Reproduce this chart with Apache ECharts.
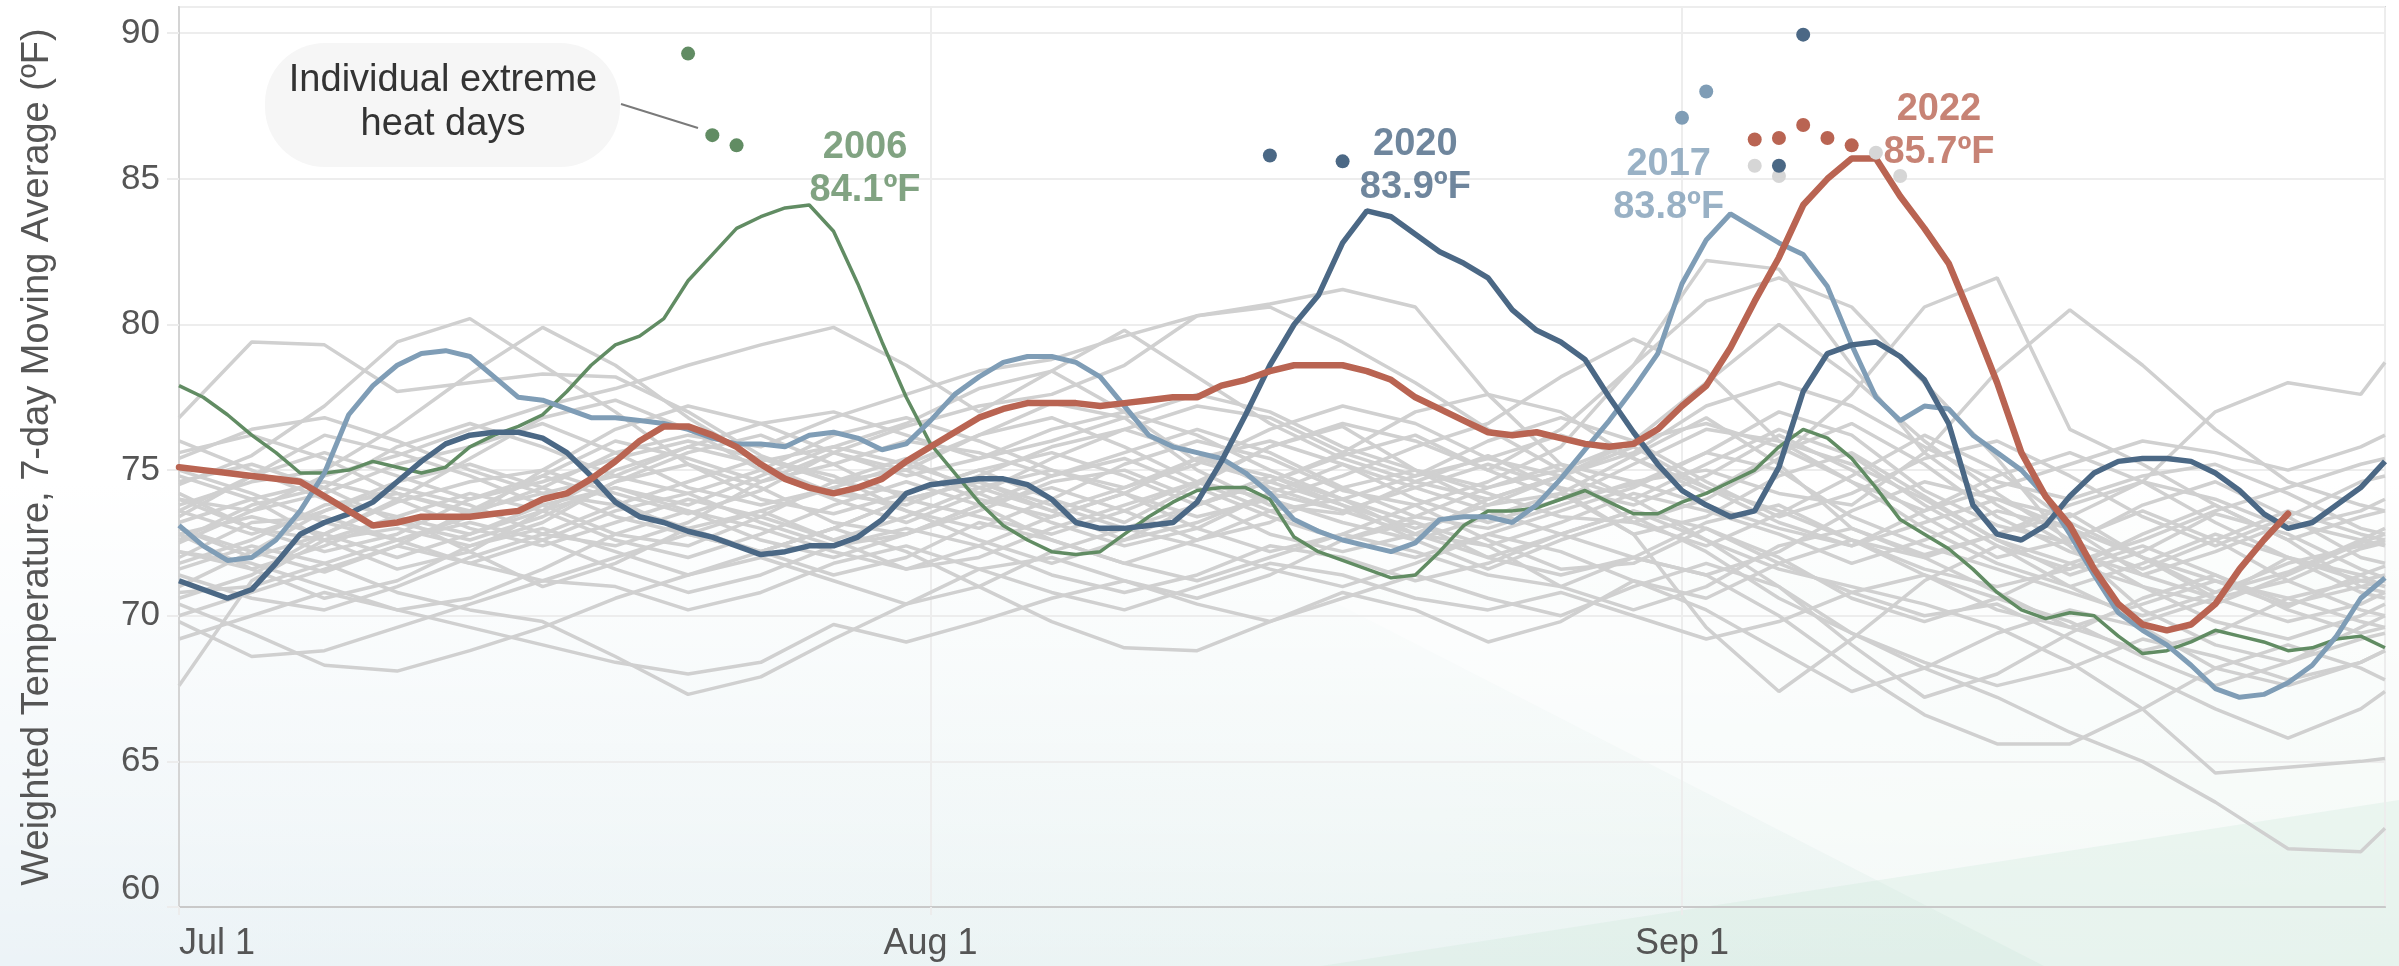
<!DOCTYPE html>
<html>
<head>
<meta charset="utf-8">
<title>Weighted Temperature, 7-day Moving Average</title>
<script src="https://cdn.jsdelivr.net/npm/echarts@6/dist/echarts.min.js"></script>
<style>
html, body { margin: 0; padding: 0; }
body {
  width: 2399px; height: 966px; overflow: hidden;
  background:
    linear-gradient(180deg, #ffffff 0%, #ffffff 50%, rgba(255,255,255,0.35) 85%, rgba(255,255,255,0) 100%),
    linear-gradient(90deg, #ecf3f7 0%, #ebf4f3 60%, #e6f2ec 100%);
}
#chart { width: 2399px; height: 966px; }
</style>
</head>
<body>
<div id="chart"></div>
<script>
// x = days since Jul 1
var tickDays = [0, 31, 62];
var tickLabels = ['Jul 1', 'Aug 1', 'Sep 1'];

// highlighted years, one value per day from Jul 1
var y2006 = [77.9, 77.5, 76.9, 76.2, 75.6, 74.9, 74.9, 75.0, 75.3, 75.1,
  74.9, 75.1, 75.8, 76.2, 76.5, 76.9, 77.7, 78.6, 79.3, 79.6,
  80.2, 81.5, 82.4, 83.3, 83.7, 84.0, 84.1, 83.2, 81.4, 79.4,
  77.5, 75.9, 74.9, 73.9, 73.1, 72.6, 72.2, 72.1, 72.2, 72.8,
  73.4, 73.9, 74.3, 74.4, 74.4, 74.0, 72.7, 72.2, 71.9, 71.6,
  71.3, 71.4, 72.2, 73.1, 73.6, 73.6, 73.7, 74.0, 74.3, 73.9,
  73.5, 73.5, 73.9, 74.2, 74.6, 75.0, 75.8, 76.4, 76.1, 75.4,
  74.4, 73.3, 72.8, 72.3, 71.6, 70.8, 70.2, 69.9, 70.1, 70.0,
  69.3, 68.7, 68.8, 69.1, 69.5, 69.3, 69.1, 68.8, 68.9, 69.2,
  69.3, 68.9];
var y2017 = [73.1, 72.4, 71.9, 72.0, 72.6, 73.6, 74.9, 76.9, 77.9, 78.6,
  79.0, 79.1, 78.9, 78.2, 77.5, 77.4, 77.1, 76.8, 76.8, 76.7,
  76.6, 76.4, 76.1, 75.9, 75.9, 75.8, 76.2, 76.3, 76.1, 75.7,
  75.9, 76.7, 77.6, 78.2, 78.7, 78.9, 78.9, 78.7, 78.2, 77.2,
  76.2, 75.8, 75.6, 75.4, 74.9, 74.2, 73.3, 72.9, 72.6, 72.4,
  72.2, 72.5, 73.3, 73.4, 73.4, 73.2, 73.8, 74.7, 75.7, 76.7,
  77.8, 79.0, 81.4, 82.9, 83.8, 83.3, 82.8, 82.4, 81.3, 79.3,
  77.5, 76.7, 77.2, 77.1, 76.2, 75.6, 75.0, 74.1, 72.8, 71.4,
  70.1, 69.5, 69.0, 68.3, 67.5, 67.2, 67.3, 67.7, 68.3, 69.3,
  70.6, 71.3];
var y2020 = [71.2, 70.9, 70.6, 70.9, 71.8, 72.8, 73.2, 73.5, 73.9, 74.6,
  75.3, 75.9, 76.2, 76.3, 76.3, 76.1, 75.6, 74.8, 73.9, 73.4,
  73.2, 72.9, 72.7, 72.4, 72.1, 72.2, 72.4, 72.4, 72.7, 73.3,
  74.2, 74.5, 74.6, 74.7, 74.7, 74.5, 74.0, 73.2, 73.0, 73.0,
  73.1, 73.2, 73.9, 75.3, 76.9, 78.6, 80.0, 81.0, 82.8, 83.9,
  83.7, 83.1, 82.5, 82.1, 81.6, 80.5, 79.8, 79.4, 78.8, 77.5,
  76.3, 75.2, 74.3, 73.8, 73.4, 73.6, 75.1, 77.7, 79.0, 79.3,
  79.4, 78.9, 78.1, 76.6, 73.8, 72.8, 72.6, 73.1, 74.1, 74.9,
  75.3, 75.4, 75.4, 75.3, 74.9, 74.3, 73.5, 73.0, 73.2, 73.8,
  74.4, 75.3];
var y2022 = [75.1, 75.0, 74.9, 74.8, 74.7, 74.6, 74.1, 73.6, 73.1, 73.2,
  73.4, 73.4, 73.4, 73.5, 73.6, 74.0, 74.2, 74.7, 75.3, 76.0,
  76.5, 76.5, 76.2, 75.8, 75.2, 74.7, 74.4, 74.2, 74.4, 74.7,
  75.3, 75.8, 76.3, 76.8, 77.1, 77.3, 77.3, 77.3, 77.2, 77.3,
  77.4, 77.5, 77.5, 77.9, 78.1, 78.4, 78.6, 78.6, 78.6, 78.4,
  78.1, 77.5, 77.1, 76.7, 76.3, 76.2, 76.3, 76.1, 75.9, 75.8,
  75.9, 76.4, 77.2, 77.9, 79.2, 80.8, 82.3, 84.1, 85.0, 85.7,
  85.7, 84.4, 83.3, 82.1, 80.1, 78.0, 75.6, 74.1, 73.1, 71.6,
  70.4, 69.7, 69.5, 69.7, 70.4, 71.6, 72.6, 73.5];

var peakYears = ['2006', '2017', '2020', '2022'];
var peakValues = [84.1, 83.8, 83.9, 85.7];

// individual extreme heat days [day, temp]
var hot2006 = [[21, 89.3], [22, 86.5], [23, 86.15]];
var hot2017 = [[62, 87.1], [63, 88.0]];
var hot2020 = [[45, 85.8], [48, 85.6], [66, 85.45], [67, 89.95]];
var hot2022 = [[65, 86.35], [66, 86.4], [67, 86.85], [68, 86.4], [69, 86.15]];
var hotOther = [[65, 85.45], [66, 85.1], [70, 85.9], [71, 85.1]];

// other years, read every 3 days
var grayDays = [0, 3, 6, 9, 12, 15, 18, 21, 24, 27, 30, 33, 36, 39, 42, 45, 48, 51, 54, 57, 60, 63, 66, 69, 72, 75, 78, 81, 84, 87, 90, 91];
var grayYears = [
  [74.5,75.5,77.2,79.4,80.2,78.6,77.0,75.2,74.0,73.5,74.2,75.0,74.0,73.2,74.5,75.8,76.5,75.0,73.8,74.2,75.5,76.8,75.2,73.0,72.1,72.8,73.5,72.0,70.8,71.5,72.6,73.0],
  [76.8,79.4,79.3,77.7,78.0,78.3,78.2,77.0,75.5,74.6,75.0,76.2,77.3,76.8,75.0,73.8,73.5,74.6,75.5,74.3,72.8,73.4,74.8,75.6,74.1,72.6,71.4,72.2,73.5,72.8,71.6,71.3],
  [73.8,74.6,75.0,76.5,78.3,79.9,78.6,76.8,75.3,75.8,76.6,77.8,78.4,77.0,75.3,74.6,75.5,76.2,75.0,74.0,74.5,75.6,77.0,76.2,74.3,73.1,72.5,73.8,74.6,73.4,72.0,71.8],
  [72.5,73.6,74.8,75.5,76.4,77.2,77.8,78.6,79.3,79.9,78.6,77.0,78.4,79.8,78.2,76.6,75.4,74.6,74.0,74.8,75.8,74.4,73.2,72.4,73.2,74.0,73.0,71.4,70.6,71.2,72.3,72.5],
  [71.8,72.6,73.8,74.2,73.5,74.4,75.6,76.2,75.8,76.8,77.6,78.4,78.8,79.6,80.3,80.7,81.2,80.6,77.6,75.2,74.0,75.2,76.4,75.5,73.8,72.4,71.6,72.8,73.8,72.6,71.0,70.8],
  [70.6,71.4,72.8,73.9,74.6,75.0,74.2,73.5,74.3,75.6,76.5,77.2,77.6,78.6,80.3,80.6,79.4,78.0,76.4,75.0,73.2,72.4,73.5,74.8,76.2,75.0,73.2,72.0,71.2,70.3,71.4,71.7],
  [73.0,72.2,71.5,72.4,73.6,74.2,73.8,74.6,75.4,74.8,73.6,73.0,74.0,75.2,76.0,75.4,74.3,73.8,74.6,75.8,78.6,82.2,81.9,78.6,75.6,73.8,72.4,71.0,70.4,71.4,72.5,72.8],
  [74.2,73.0,72.6,73.0,72.4,73.2,74.6,75.6,76.2,75.2,74.0,73.4,72.8,73.6,74.6,75.8,76.6,76.0,75.0,76.4,78.6,80.8,81.6,80.6,78.0,75.4,72.4,70.2,69.0,68.4,69.6,70.0],
  [72.0,73.2,73.4,72.6,71.8,72.6,73.6,74.2,73.2,72.4,72.8,73.8,74.4,73.6,72.6,73.2,74.4,75.0,74.2,73.4,73.2,74.0,75.4,77.6,80.6,81.6,76.4,75.2,73.8,72.6,73.4,73.6],
  [75.6,76.2,75.4,74.2,73.6,74.8,76.0,75.4,74.6,75.2,76.0,75.6,74.8,75.6,76.4,75.6,74.4,73.4,73.0,73.8,74.6,75.0,74.2,73.8,75.6,78.4,80.5,78.6,76.4,74.6,73.8,73.6],
  [73.4,74.8,76.2,75.6,74.8,73.8,72.8,72.4,73.4,74.6,75.4,74.2,73.2,72.4,73.0,74.2,75.2,74.4,73.6,72.8,72.0,71.4,72.2,73.6,74.6,74.0,73.4,74.6,77.0,78.0,77.6,78.7],
  [67.6,71.2,72.6,73.4,72.2,71.0,71.8,73.0,73.6,72.6,71.6,72.4,73.4,74.2,73.0,72.2,72.8,73.8,72.6,71.6,71.8,73.0,72.0,70.6,69.8,70.6,71.8,71.0,69.8,69.2,70.0,70.4],
  [70.4,69.4,68.3,68.1,68.8,69.6,70.6,71.4,72.0,71.2,70.4,71.0,72.2,73.0,72.4,71.6,71.0,71.8,72.8,72.2,71.2,70.6,71.8,72.6,71.4,70.2,69.6,70.4,71.2,70.6,69.8,69.6],
  [71.6,72.4,71.8,70.8,70.2,69.8,68.6,67.3,67.9,69.2,70.4,71.6,72.0,71.2,70.6,71.4,72.6,73.2,72.4,71.0,70.2,71.0,72.4,73.0,72.0,70.8,69.6,68.8,69.4,70.6,71.2,71.4],
  [69.2,70.0,70.8,70.2,69.6,69.0,68.4,68.0,68.4,69.7,69.1,69.8,70.6,71.2,70.4,69.8,70.6,71.4,70.6,70.0,71.0,71.8,71.0,69.4,68.4,67.6,68.2,69.2,68.6,67.8,68.4,68.8],
  [72.8,71.6,70.6,71.2,72.4,73.0,72.2,71.4,72.2,73.0,72.2,71.0,69.8,68.9,68.8,69.8,70.8,70.2,69.1,69.8,71.2,70.2,68.8,67.4,68.2,69.4,70.2,69.6,68.2,67.6,68.4,68.8],
  [73.2,74.0,74.6,74.0,73.0,72.4,73.2,74.0,73.4,72.6,73.4,74.4,75.0,74.2,73.4,74.0,73.2,72.6,73.4,74.2,72.8,69.6,67.4,69.2,71.2,72.4,71.0,69.8,70.6,72.0,71.4,71.0],
  [74.0,73.0,72.2,72.8,74.0,74.8,74.0,72.8,72.2,73.0,74.0,74.6,73.6,72.6,73.2,74.2,73.6,72.8,72.0,72.8,73.6,72.6,71.0,69.0,67.2,68.0,69.4,70.6,71.4,70.2,69.4,69.6],
  [72.2,71.6,72.4,73.4,74.2,73.6,72.6,72.0,72.8,73.8,74.6,73.8,72.6,71.8,72.6,73.6,74.0,73.2,72.0,71.4,72.0,71.4,70.0,68.2,66.6,65.6,65.6,66.8,68.2,69.0,68.2,67.8],
  [73.6,72.8,73.6,74.6,75.2,74.4,73.4,72.8,73.6,74.4,73.6,72.6,71.8,72.6,73.8,74.6,73.8,72.6,71.6,72.6,73.4,72.2,70.6,69.4,68.2,67.2,66.0,65.0,63.6,62.0,61.9,62.7],
  [74.6,75.2,74.4,73.2,72.6,73.4,74.6,75.2,74.4,73.2,72.8,73.6,74.6,75.0,74.0,72.8,72.2,72.8,74.0,74.8,74.0,72.6,71.6,71.0,70.4,69.6,68.4,66.8,64.6,64.8,65.0,65.1],
  [70.8,71.0,71.8,72.6,73.2,72.6,71.6,70.8,71.4,72.4,73.0,72.4,71.4,70.8,71.4,72.4,72.0,71.2,71.8,72.8,73.6,73.0,71.8,70.8,70.0,70.4,69.2,68.0,66.8,65.8,66.8,67.4],
  [75.0,74.2,73.2,72.6,73.4,75.0,76.4,77.2,76.6,75.6,74.8,75.4,76.4,77.0,76.2,75.0,74.0,74.8,76.0,76.8,76.0,74.6,73.4,74.2,75.4,76.0,74.8,73.4,72.4,73.4,74.6,74.8],
  [72.6,73.8,74.4,75.8,76.6,75.8,74.8,74.2,75.0,76.2,76.8,76.0,75.0,74.4,75.2,76.4,77.2,76.6,75.4,74.8,75.6,77.2,78.0,77.2,75.8,74.6,74.0,74.8,75.2,74.2,73.0,72.8],
  [74.0,73.6,74.2,75.2,75.8,76.6,75.6,74.4,73.8,74.4,75.2,76.2,76.8,75.8,74.6,74.0,74.8,75.8,76.6,78.2,79.5,78.4,76.0,75.2,74.0,72.6,71.8,72.6,73.6,74.4,75.2,75.4],
  [73.0,72.0,72.8,74.0,75.4,76.8,77.4,76.4,75.0,74.0,73.2,74.2,75.4,76.4,77.2,76.8,75.6,74.8,75.4,76.2,75.4,74.2,75.6,76.6,75.2,73.4,72.2,71.4,72.2,73.2,72.6,72.4],
  [71.0,72.2,73.6,74.4,73.8,72.8,72.4,73.2,74.6,75.6,75.0,74.0,73.4,74.2,75.4,76.0,75.2,74.0,73.2,74.0,75.2,76.4,76.0,74.6,73.0,71.8,71.0,71.8,72.8,72.0,70.8,70.6],
  [74.8,74.0,72.6,71.6,72.2,73.6,75.0,75.8,75.2,74.2,73.8,74.8,75.8,76.4,75.6,74.4,73.6,74.4,75.2,74.4,73.8,74.8,76.2,75.0,73.4,72.0,72.6,73.6,72.6,71.2,70.2,70.0],
  [76.0,75.0,74.0,73.4,72.8,73.6,74.4,73.6,72.6,72.0,72.8,73.8,74.8,75.4,74.4,73.4,72.6,73.4,74.4,75.2,74.6,73.8,73.0,72.4,73.6,74.8,75.6,74.6,73.2,72.0,71.2,71.0],
  [70.0,70.8,71.6,72.4,71.8,71.2,72.0,72.8,72.2,71.4,72.0,73.2,72.6,71.8,71.2,72.0,72.8,72.2,71.4,71.0,72.0,73.2,73.8,72.6,71.6,71.0,71.6,72.4,71.4,70.4,71.0,71.2],
  [73.6,74.8,75.6,74.8,74.0,74.6,75.4,76.0,75.4,74.6,74.2,75.0,75.6,74.8,73.8,74.6,75.6,77.0,77.6,77.0,75.4,74.4,73.6,72.6,72.0,72.8,73.8,74.6,74.0,73.0,73.6,74.0],
  [71.4,70.6,70.2,71.0,72.0,72.8,73.8,73.0,72.2,73.0,74.0,74.6,73.8,73.0,73.8,74.8,74.0,72.8,72.4,73.2,74.2,73.6,72.8,71.8,72.6,73.6,73.0,72.0,70.6,69.8,70.4,70.8],
  [75.4,76.4,76.8,76.0,75.0,74.2,74.8,75.8,76.6,77.0,76.2,75.4,76.0,76.8,77.6,77.0,75.8,75.0,74.4,75.0,76.0,76.6,75.8,74.6,73.6,74.4,75.2,76.0,75.6,75.0,75.8,76.2],
  [72.2,71.8,71.0,70.2,70.6,71.6,72.8,73.6,73.0,72.2,71.6,72.0,73.0,73.8,74.6,73.6,72.6,72.0,72.8,73.6,74.4,75.6,75.0,73.4,72.4,71.6,70.8,70.0,70.8,71.8,72.4,72.6],
  [69.8,68.6,68.8,69.6,70.4,71.2,71.0,70.2,70.8,71.8,72.4,71.6,70.8,70.2,71.0,71.8,71.4,70.6,70.2,70.8,70.0,69.2,69.8,70.8,71.4,70.6,69.8,68.6,67.6,68.4,69.2,69.4],
  [72.8,73.4,72.8,72.0,72.8,73.8,74.4,73.8,74.8,75.8,75.2,74.4,73.6,74.4,75.4,74.8,73.8,73.0,73.8,74.8,76.0,78.0,80.0,78.2,76.0,74.2,72.6,71.6,72.6,73.6,72.8,72.6]
];

var FONT = 'Liberation Sans, Arial, sans-serif';
var C2006 = '#618c63', C2017 = '#7f9db6', C2020 = '#4b6885', C2022 = '#b96452';
var CGRAY = '#d0d0d0';

function byDay(arr) {
  return arr.map(function (v, i) { return [i, v]; });
}

var myChart = echarts.init(document.getElementById('chart'));

var series = [];
grayYears.forEach(function (line) {
  series.push({
    type: 'line', silent: true, symbol: 'none', z: 2,
    data: grayDays.map(function (d, i) { return [d, line[i]]; }),
    lineStyle: { color: CGRAY, width: 3.5 }
  });
});

series.push({ name: '2006', type: 'line', symbol: 'none', z: 3, data: byDay(y2006), lineStyle: { color: C2006, width: 3.5 } });
series.push({ name: '2017', type: 'line', symbol: 'none', z: 3, data: byDay(y2017), lineStyle: { color: C2017, width: 5 } });
series.push({ name: '2020', type: 'line', symbol: 'none', z: 3, data: byDay(y2020), lineStyle: { color: C2020, width: 5.5 } });
series.push({ name: '2022', type: 'line', symbol: 'none', z: 3, data: byDay(y2022), lineStyle: { color: C2022, width: 6.5, cap: 'round' } });

function dots(data, color) {
  return { type: 'scatter', symbolSize: 14, z: 4, silent: true, data: data, itemStyle: { color: color, opacity: 1 } };
}
series.push(dots(hotOther, '#d6d6d6'));
series.push(dots(hot2006, C2006));
series.push(dots(hot2017, C2017));
series.push(dots(hot2020, C2020));
series.push(dots(hot2022, C2022));

// peak labels, anchored in data coordinates
var labelAt = { '2006': [28.3, 85.33], '2017': [61.45, 84.77], '2020': [51.0, 85.44], '2022': [72.6, 86.64] };
var labelColor = { '2006': C2006, '2017': C2017, '2020': C2020, '2022': C2022 };
series.push({
  type: 'scatter', symbolSize: 1, z: 6, silent: true,
  itemStyle: { color: 'rgba(0,0,0,0)' },
  label: {
    show: true, position: 'inside', align: 'center', verticalAlign: 'middle',
    fontFamily: FONT, fontSize: 38, fontWeight: 'bold', lineHeight: 43
  },
  data: peakYears.map(function (y, i) {
    return {
      value: labelAt[y],
      label: { color: labelColor[y], formatter: y + '\n' + peakValues[i].toFixed(1) + '\u00baF' }
    };
  })
});

var option = {
  animation: false,
  backgroundColor: 'transparent',
  grid: {
    left: 179, right: 14, top: 7, bottom: 59,
    show: true, borderColor: '#d4d4d4', borderWidth: 2,
    backgroundColor: 'transparent', containLabel: false, outerBoundsMode: 'none'
  },
  xAxis: {
    type: 'value', min: 0, max: 91, interval: 31,
    axisLine: { show: true, lineStyle: { color: '#c9c9c9', width: 2 } },
    axisTick: { show: true, length: 8, lineStyle: { color: '#ececec', width: 2 } },
    splitLine: { show: true, lineStyle: { color: '#ededed', width: 2 } },
    axisLabel: {
      fontFamily: FONT, fontSize: 36, color: '#555', margin: 19,
      showMaxLabel: false, alignMinLabel: 'left',
      formatter: function (v) {
        var k = tickDays.indexOf(v);
        return k >= 0 ? tickLabels[k] : '';
      }
    }
  },
  yAxis: {
    type: 'value', min: 60, max: 90.9, interval: 5,
    name: 'Weighted Temperature, 7-day Moving Average (\u00baF)',
    nameLocation: 'middle', nameRotate: 90, nameGap: 122,
    nameTextStyle: { fontFamily: FONT, fontSize: 38, color: '#555' },
    axisLine: { show: true, lineStyle: { color: '#d4d4d4', width: 2 } },
    axisTick: { show: true, length: 12, lineStyle: { color: '#ececec', width: 2 } },
    splitLine: { show: true, lineStyle: { color: '#ededed', width: 2 } },
    axisLabel: {
      fontFamily: FONT, fontSize: 35, color: '#555', margin: 19,
      showMaxLabel: false, verticalAlignMinLabel: 'bottom',
      formatter: function (v) { return v % 5 === 0 ? String(v) : ''; }
    }
  },
  graphic: [
    { type: 'polygon', silent: true, z: -2,
      shape: { points: [[1330, 600], [2399, 600], [2399, 966], [2044, 966]] },
      style: { fill: 'rgba(255,255,255,0.45)' } },
    { type: 'polygon', silent: true, z: -1,
      shape: { points: [[1321, 966], [2399, 800], [2399, 966]] },
      style: { fill: 'rgba(205,232,218,0.3)' } },
    { type: 'rect', silent: true, z: 10,
      shape: { x: 265, y: 43, width: 355, height: 124, r: 60 },
      style: { fill: '#f6f6f6' } },
    { type: 'text', silent: true, z: 11, x: 443, y: 103,
      style: {
        text: 'Individual extreme\nheat days', fill: '#333',
        font: '38px ' + FONT, lineHeight: 44,
        align: 'center', verticalAlign: 'middle'
      } },
    { type: 'line', silent: true, z: 10,
      shape: { x1: 621, y1: 104, x2: 698, y2: 128 },
      style: { stroke: '#7a7a7a', lineWidth: 2 } }
  ],
  series: series
};

myChart.setOption(option);
</script>
</body>
</html>
